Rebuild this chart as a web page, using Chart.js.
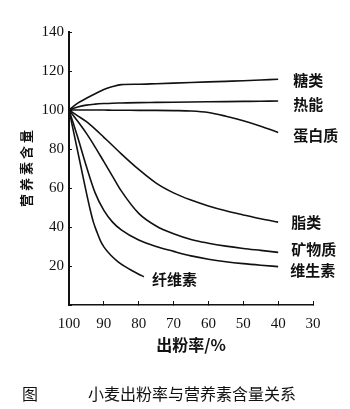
<!DOCTYPE html>
<html lang="zh">
<head>
<meta charset="UTF-8">
<title>小麦出粉率与营养素含量关系</title>
<script src="https://cdn.jsdelivr.net/npm/chart.js"></script>
<style>
    html, body { margin: 0; padding: 0; background: #fff; }
    .wrap { position: relative; width: 350px; height: 409px; }
    .caption { position: absolute; top: 381px; font-family: "Noto Sans CJK SC", sans-serif; font-size: 16px; color: #111; white-space: nowrap; }
</style>
</head>
<body>
<div class="wrap">
    <canvas id="flourChart"></canvas>
    <div class="caption" style="left:22px;">图</div>
    <div class="caption" style="left:88px;">小麦出粉率与营养素含量关系</div>
</div>

<script>
    // 出粉率 (%) sample points
    const rates = [100, 97.5, 95, 92.5, 90, 87.5, 85, 80, 75, 70, 65, 60, 55, 50, 45, 40];
    const fibreRates = [100, 98, 96, 95, 94, 93, 92, 91, 90, 88, 86, 84, 82, 80, 78.5];

    // nutrient content (whole grain = 100)
    const sugar   = [100, 103.5, 106, 108.3, 110.5, 112, 113, 113.2, 113.5, 113.8, 114.1, 114.4, 114.7, 115, 115.4, 115.8];
    const energy  = [100, 101.5, 102.5, 103, 103.3, 103.5, 103.6, 103.8, 103.9, 104, 104.1, 104.2, 104.3, 104.4, 104.5, 104.6];
    const protein = [100, 100, 100, 100, 100, 99.9, 99.9, 99.8, 99.8, 99.7, 99.5, 98.7, 96.8, 94.5, 91.7, 88.5];
    const fat     = [100, 97, 94, 90.2, 86, 81.8, 77.5, 69.5, 62.5, 57.5, 53.8, 50.8, 48.3, 46.2, 44.2, 42.5];
    const mineral = [100, 94.2, 88, 81, 73.5, 66, 58.5, 47, 40.5, 36.5, 33.6, 31.7, 30.2, 29, 28, 27];
    const vitamin = [100, 86, 71, 57.5, 48.5, 42.5, 38.5, 33.3, 30, 27.5, 25.2, 23.5, 22.2, 21.2, 20.4, 19.7];
    const fibre   = [100, 83, 66, 57.5, 49.5, 42.5, 37.5, 33, 29.8, 25.5, 22.3, 19.8, 17.7, 15.8, 14.5];

    const seriesNames = ['糖类', '热能', '蛋白质', '脂类', '矿物质', '维生素', '纤维素'];
    // where each name sits relative to the end of its curve
    const labelOffsets = [[15, 1], [15, 3], [15, 3], [13, 0], [13, -3], [12, 4], [8, 3]];

    const toPoints = (xs, ys) => ys.map((y, i) => ({ x: xs[i], y: y }));
    const seriesData = [
        toPoints(rates, sugar),
        toPoints(rates, energy),
        toPoints(rates, protein),
        toPoints(rates, fat),
        toPoints(rates, mineral),
        toPoints(rates, vitamin),
        toPoints(fibreRates, fibre)
    ];

    // writes the series name next to the end of each curve
    const endLabels = {
        id: 'endLabels',
        afterDatasetsDraw(chart) {
            const ctx = chart.ctx;
            ctx.save();
            ctx.font = 'bold 15px "Noto Sans CJK SC"';
            ctx.fillStyle = '#111';
            ctx.textAlign = 'left';
            ctx.textBaseline = 'middle';
            chart.data.datasets.forEach((ds, i) => {
                const pts = chart.getDatasetMeta(i).data;
                const last = pts[pts.length - 1];
                ctx.fillText(ds.label, last.x + labelOffsets[i][0], last.y + labelOffsets[i][1]);
            });
            ctx.restore();
        }
    };

    const tickFont = { family: '"Liberation Serif", serif', size: 15 };

    new Chart(document.getElementById('flourChart'), {
        type: 'line',
        data: {
            datasets: seriesData.map((d, i) => ({
                label: seriesNames[i],
                data: d,
                borderColor: '#111',
                borderWidth: 1.6,
                pointRadius: 0,
                fill: false,
                cubicInterpolationMode: 'monotone'
            }))
        },
        options: {
            responsive: true,
            maintainAspectRatio: false,
            animation: false,
            layout: { padding: { left: 0, top: 32, right: 37, bottom: 54 } },
            plugins: {
                legend: { display: false },
                tooltip: { enabled: false }
            },
            scales: {
                x: {
                    type: 'linear',
                    reverse: true,
                    min: 30,
                    max: 100,
                    // negative tick length puts the marks inside the plot, as in the print
                    ticks: { stepSize: 10, color: '#111', font: tickFont, padding: 14, maxRotation: 0 },
                    grid: { drawOnChartArea: false, color: '#111', tickLength: -4 },
                    border: { color: '#111', width: 1.5 },
                    title: {
                        display: true,
                        text: '出粉率/%',
                        color: '#111',
                        font: { family: '"Noto Sans CJK SC"', size: 16, weight: 'bold' },
                        padding: { top: 3, bottom: 0 }
                    },
                    afterFit(scale) {
                        scale.height = 50;
                        scale.paddingLeft = 0;
                        scale.paddingRight = 0;
                    }
                },
                y: {
                    min: 0,
                    max: 140,
                    ticks: {
                        stepSize: 20,
                        color: '#111',
                        font: tickFont,
                        padding: 8,
                        callback: v => (v === 0 ? '' : v)
                    },
                    grid: { drawOnChartArea: false, color: '#111', tickLength: -3 },
                    border: { color: '#111', width: 2 },
                    title: {
                        display: true,
                        text: '营 养 素 含 量',
                        color: '#111',
                        font: { family: '"Noto Sans CJK SC"', size: 13, weight: 'bold' },
                        padding: { top: 18, bottom: 0 }
                    },
                    afterFit(scale) {
                        scale.width = 69;
                        scale.paddingTop = 0;
                        scale.paddingBottom = 0;
                    }
                }
            }
        },
        plugins: [endLabels]
    });
</script>
</body>
</html>
